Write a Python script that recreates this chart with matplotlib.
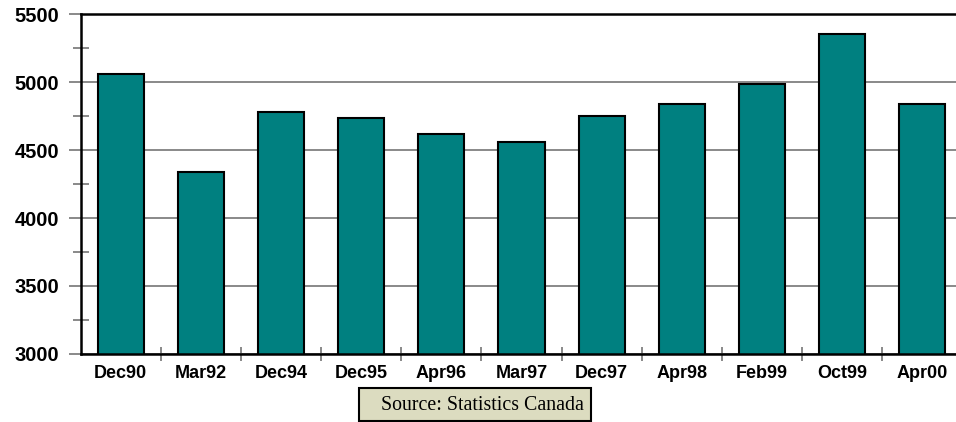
import matplotlib
matplotlib.use('Agg')
import matplotlib.pyplot as plt
from matplotlib.patches import Rectangle
from matplotlib.ticker import MultipleLocator, FixedLocator

labels = ['Dec90', 'Mar92', 'Dec94', 'Dec95', 'Apr96', 'Mar97',
          'Dec97', 'Apr98', 'Feb99', 'Oct99', 'Apr00']
values = [5059, 4338, 4779, 4735, 4620, 4562, 4750, 4838, 4985, 5353, 4838]

W, H = 956, 422
fig = plt.figure(figsize=(W / 100, H / 100), dpi=100)
ax = fig.add_axes([80.7 / W, 1 - 354 / H, 881.6 / W, 340 / H])

x = range(len(values))
ax.bar(x, values, width=0.575, color='#008080',
       edgecolor='black', linewidth=1.5, zorder=3)

ax.set_xlim(-0.5, len(values) - 0.5)
ax.set_ylim(3000, 5500)

ax.yaxis.set_major_locator(MultipleLocator(500))
ax.yaxis.set_minor_locator(FixedLocator([3250, 3750, 4250, 4750, 5250]))
ax.grid(axis='y', which='major', color='#808080', linewidth=1.3, zorder=1)

ax.set_xticks(list(x))
ax.set_xticklabels(labels)
ax.xaxis.set_minor_locator(FixedLocator([i + 0.5 for i in range(len(values) - 1)]))

ax.tick_params(axis='y', which='major', direction='out', length=8.6,
               width=1.3, color='#808080', pad=7)
ax.tick_params(axis='y', which='minor', direction='inout', length=12,
               width=1.3, color='#808080')
ax.tick_params(axis='x', which='major', length=0, pad=17.3)
ax.tick_params(axis='x', which='minor', direction='inout', length=9.4,
               width=1.3, color='#808080')

for lab in ax.get_yticklabels():
    lab.set_fontfamily('Liberation Sans')
    lab.set_fontweight('bold')
    lab.set_fontsize(14.5)
for lab in ax.get_xticklabels():
    lab.set_fontfamily('Liberation Sans')
    lab.set_fontweight('bold')
    lab.set_fontsize(13)
    lab.set_verticalalignment('baseline')

for side in ['left', 'top', 'bottom']:
    ax.spines[side].set_color('black')
    ax.spines[side].set_linewidth(1.8)
    ax.spines[side].set_zorder(4)
ax.spines['right'].set_visible(False)

# source box
fig.patches.append(Rectangle((359 / W, 1 - 421 / H), 232 / W, 33 / H,
                             transform=fig.transFigure, facecolor='#DCDCC0',
                             edgecolor='black', linewidth=1.5))
fig.text(381 / W, 1 - 410 / H, 'Source: Statistics Canada',
         family='Liberation Serif', fontsize=14.3, va='baseline', ha='left')

fig.savefig('out.png', dpi=100)
